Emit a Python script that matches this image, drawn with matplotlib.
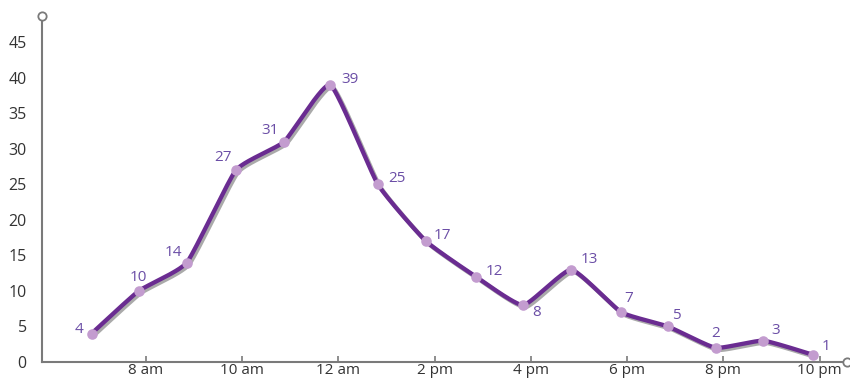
import numpy as np
import matplotlib
matplotlib.use("Agg")
import matplotlib.pyplot as plt
import matplotlib.patheffects as pe

# ---- data ----
hours = [6.87, 7.85, 8.85, 9.87, 10.87, 11.83, 12.82, 13.82, 14.86, 15.84,
         16.84, 17.88, 18.85, 19.84, 20.83, 21.87]
values = [4, 10, 14, 27, 31, 39, 25, 17, 12, 8, 13, 7, 5, 2, 3, 1]
tick_hours = [8, 10, 12, 14, 16, 18, 20, 22]
tick_labels = ["8 am", "10 am", "12 am", "2 pm", "4 pm", "6 pm", "8 pm", "10 pm"]
y_ticks = [0, 5, 10, 15, 20, 25, 30, 35, 40, 45]
# label offsets in points (dx, dy)
label_offsets = [(-9, 3), (0, 10), (-10, 7), (-9, 9), (-10, 8), (14, 4), (14, 4),
                 (12, 4), (13, 4), (10, -5), (13, 7), (5, 10), (6, 8), (0, 10),
                 (9, 7), (9, 6)]

LINE = "#6a2c91"
MARK = "#c39ccf"
LABEL = "#6b4ea6"
AXIS = "#7a7a7a"


def cardinal_curve(x, y, tension=0.55, n=40):
    """Cardinal spline (d3 curveCardinal style), sampled for drawing."""
    k = (1 - tension) / 6.0
    pts = np.column_stack([x, y]).astype(float)
    m = len(pts)
    out = []
    t = np.linspace(0, 1, n)[:, None]
    for i in range(m - 1):
        p0 = pts[i - 1] if i > 0 else pts[i]
        p1 = pts[i]
        p2 = pts[i + 1]
        p3 = pts[i + 2] if i + 2 < m else pts[i + 1]
        c1 = p1 + k * (p2 - p0)
        c2 = p2 - k * (p3 - p1)
        seg = ((1 - t) ** 3) * p1 + 3 * ((1 - t) ** 2) * t * c1 + 3 * (1 - t) * t ** 2 * c2 + t ** 3 * p2
        out.append(seg if i == 0 else seg[1:])
    arr = np.vstack(out)
    return arr[:, 0], arr[:, 1]


plt.rcParams['font.family'] = ['Open Sans', 'DejaVu Sans']
fig = plt.figure(figsize=(8.5, 3.8), dpi=100)
ax = fig.add_axes([42 / 850, 18 / 380, (847 - 42) / 850, (362 - 16) / 380])

cx, cy = cardinal_curve(hours, values)
ax.plot(cx, cy, color=LINE, lw=3.1, solid_capstyle='round', solid_joinstyle='round', zorder=3,
        path_effects=[pe.SimpleLineShadow(offset=(1.5, -1.5), shadow_color='#444444', alpha=0.45),
                      pe.Normal()])
ax.scatter(hours, values, s=58, color=MARK, zorder=4, clip_on=False, linewidths=0)

for xv, yv, (dx, dy) in zip(hours, values, label_offsets):
    ax.annotate(str(yv), (xv, yv), xytext=(dx, dy), textcoords='offset points',
                ha='center', va='center', color=LABEL, fontsize=11, zorder=5)

ax.set_xlim(5.84, 22.57)
ax.set_ylim(0, 48.7)

for side in ['top', 'right']:
    ax.spines[side].set_visible(False)
for side in ['left', 'bottom']:
    ax.spines[side].set_color(AXIS)
    ax.spines[side].set_linewidth(1.5)

ax.set_xticks(tick_hours)
ax.set_xticklabels(tick_labels)
ax.set_yticks(y_ticks)
ax.tick_params(axis='x', direction='in', length=4, width=1.2, color=AXIS,
               labelsize=11, labelcolor='#333333', pad=1)
ax.tick_params(axis='y', length=0, labelsize=11.5, labelcolor='#333333', pad=11)

# open circles at axis ends
ax.plot([0], [1], transform=ax.transAxes, marker='o', ms=6, mfc='white',
        mec=AXIS, mew=1.3, clip_on=False, zorder=6)
ax.plot([1], [0], transform=ax.transAxes, marker='o', ms=6, mfc='white',
        mec=AXIS, mew=1.3, clip_on=False, zorder=6)

fig.savefig("out.png", dpi=100)
